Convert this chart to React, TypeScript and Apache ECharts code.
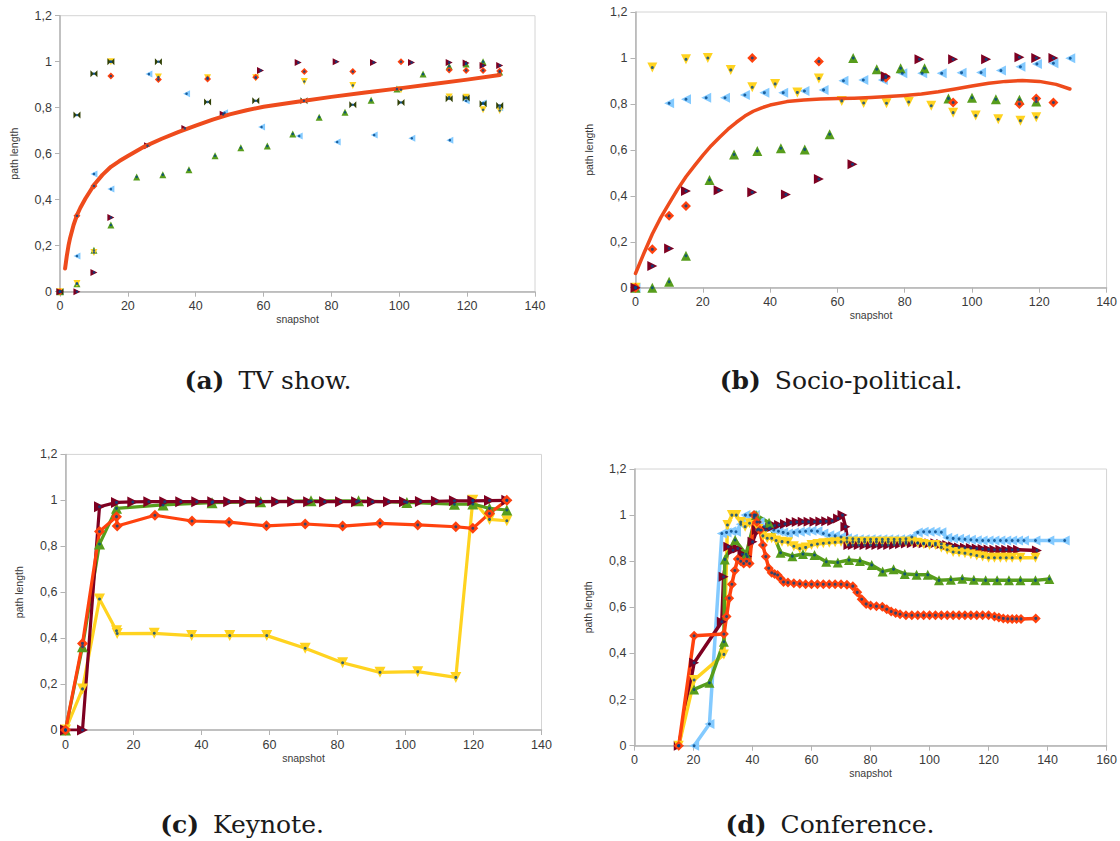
import React, { useEffect, useRef } from "react";
import * as echarts from "echarts";

type Pt = [number, number];

// palette
const ORANGE = "#ff420e";
const YELLOW = "#ffd320";
const GREEN = "#579d1c";
const MAROON = "#7e0021";
const LIGHTBLUE = "#83caff";
const DARKGREEN = "#314004";
const DOT = "#004586";
const TREND = "#ee4b1c";

const SYM_DIAMOND = "diamond";
const SYM_UP = "triangle";
const SYM_DOWN = "path://M0,0L10,0L5,9Z";
const SYM_RIGHT = "path://M0,0L9,5L0,10Z";
const SYM_LEFT = "path://M9,0L0,5L9,10Z";
const SYM_BOWTIE = "path://M0,0L5,5L0,10ZM10,0L5,5L10,10Z";

// (a) TV show
const tvOrange: Pt[] = [[0, 0], [5, 0.33], [10, 0.46], [15, 0.938], [29, 0.923], [43.5, 0.925], [57.7, 0.932], [72, 0.957], [86.3, 0.957], [100.5, 1.0], [114.7, 0.964], [119.7, 0.962], [124.7, 0.962], [129.6, 0.96]];
const tvYellow: Pt[] = [[0, 0], [5, 0.036], [10, 0.17], [15, 1.0], [29, 0.933], [43.5, 0.93], [57.7, 0.93], [72, 0.914], [86.3, 0.897], [100.5, 0.878], [114.7, 0.846], [119.7, 0.845], [124.7, 0.791], [129.6, 0.788]];
const tvGreen: Pt[] = [[0, 0], [5, 0.035], [10, 0.18], [15, 0.29], [22.6, 0.499], [30.3, 0.509], [38, 0.53], [45.7, 0.591], [53.3, 0.626], [61.1, 0.633], [68.6, 0.686], [76.4, 0.759], [84, 0.78], [91.7, 0.832], [99.3, 0.881], [107, 0.946], [114.7, 0.98], [119.7, 0.99], [124.7, 1.0], [129.6, 0.955]];
const tvMaroon: Pt[] = [[0, 0], [5, 0], [10, 0.084], [15, 0.323], [25.8, 0.635], [36.8, 0.71], [48.1, 0.771], [59.1, 0.962], [70.2, 0.996], [81.4, 1.0], [92.4, 0.997], [103.6, 0.997], [114.7, 0.997], [119.7, 0.994], [124.7, 0.983], [129.6, 0.983]];
const tvLightBlue: Pt[] = [[0, 0], [5, 0.155], [10, 0.512], [15, 0.446], [26.2, 0.946], [37.3, 0.861], [48.5, 0.778], [59.4, 0.716], [70.5, 0.677], [81.7, 0.651], [92.6, 0.681], [103.7, 0.667], [114.9, 0.659], [119.7, 0.83], [124.7, 0.82], [129.6, 0.8]];
const tvBowtie: Pt[] = [[0, 0], [5, 0.768], [10, 0.948], [15, 1.0], [29, 1.0], [43.5, 0.825], [57.7, 0.83], [71.9, 0.83], [86.3, 0.813], [100.5, 0.823], [114.7, 0.839], [119.7, 0.842], [124.7, 0.817], [129.6, 0.81]];
// fitted trend curve, read along its length
const tvTrend: Pt[] = [[1.5, 0.101], [2, 0.155], [2.5, 0.2], [3, 0.235], [4, 0.29], [5, 0.333], [6, 0.365], [7.5, 0.405], [9, 0.44], [10, 0.464], [12.5, 0.508], [15, 0.543], [17.5, 0.568], [20, 0.59], [25, 0.632], [30, 0.665], [35, 0.695], [40, 0.722], [45, 0.748], [50, 0.771], [55, 0.789], [60, 0.804], [70, 0.826], [80, 0.847], [90, 0.866], [100, 0.884], [110, 0.903], [120, 0.922], [129.6, 0.942]];

// (b) Socio-political
const spYellow: Pt[] = [[0, 0], [5, 0.958], [15, 0.994], [21.5, 1.0], [28.3, 0.948], [34.7, 0.872], [41.5, 0.887], [48.1, 0.85], [54.5, 0.911], [61.3, 0.813], [67.8, 0.804], [74.6, 0.803], [81.2, 0.808], [87.9, 0.792], [94.4, 0.762], [101.1, 0.749], [107.8, 0.733], [114.4, 0.727], [119.1, 0.742]];
const spOrange: Pt[] = [[0, 0], [5, 0.167], [10, 0.313], [15, 0.356], [34.7, 1.0], [54.5, 0.985], [74.4, 0.914], [94.4, 0.806], [114.1, 0.8], [119.1, 0.824], [124.2, 0.806]];
const spMaroon: Pt[] = [[0, 0], [5, 0.094], [10, 0.171], [15, 0.421], [24.7, 0.424], [34.7, 0.415], [44.7, 0.406], [54.5, 0.473], [64.5, 0.537], [74.4, 0.92], [84.4, 0.994], [94.4, 0.994], [104.2, 0.994], [114.1, 1.003], [119.1, 1.0], [124.2, 1.0]];
const spGreen: Pt[] = [[0, 0], [5, 0], [10, 0.026], [15, 0.139], [22, 0.469], [29.3, 0.58], [36.2, 0.595], [43.2, 0.607], [50.3, 0.602], [57.7, 0.668], [64.7, 1.0], [71.7, 0.951], [78.8, 0.955], [85.9, 0.955], [93, 0.824], [100, 0.827], [107.1, 0.82], [114.1, 0.818], [119.1, 0.81]];
const spLightBlue: Pt[] = [[0, 0], [10, 0.803], [15, 0.82], [21, 0.827], [26.6, 0.827], [32.5, 0.839], [38.3, 0.849], [43.9, 0.849], [50.2, 0.856], [55.9, 0.861], [61.8, 0.901], [67.7, 0.904], [73.5, 0.904], [79.3, 0.933], [85.2, 0.933], [91, 0.933], [96.9, 0.936], [102.7, 0.937], [108.6, 0.945], [114.4, 0.962], [119.3, 0.974], [124.2, 0.977], [129.2, 0.999]];
const spTrend: Pt[] = [[0, 0.062], [2.5, 0.15], [5, 0.234], [7.5, 0.305], [10, 0.367], [12.5, 0.428], [15, 0.483], [17.5, 0.53], [20, 0.576], [22.5, 0.618], [25, 0.655], [27.5, 0.69], [30, 0.72], [32.5, 0.747], [35, 0.768], [37.5, 0.783], [40, 0.795], [45, 0.81], [50, 0.817], [55, 0.821], [60, 0.823], [65, 0.825], [70, 0.828], [75, 0.832], [80, 0.837], [85, 0.843], [90, 0.853], [95, 0.865], [100, 0.878], [105, 0.89], [110, 0.898], [115, 0.902], [120, 0.898], [125, 0.885], [129.1, 0.865]];

// (c) Keynote
const kyYellow: Pt[] = [[0, 0], [5, 0.179], [10, 0.57], [15, 0.432], [15.2, 0.42], [26.1, 0.421], [37.1, 0.411], [48.3, 0.411], [59.2, 0.411], [70.5, 0.356], [81.5, 0.293], [92.5, 0.251], [103.6, 0.254], [114.8, 0.229], [119.8, 1.0], [124.7, 0.917], [129.8, 0.911]];
const kyOrange: Pt[] = [[0, 0], [5, 0.377], [10, 0.864], [15, 0.929], [15.2, 0.888], [26.3, 0.935], [37.2, 0.91], [48.1, 0.905], [59.1, 0.889], [70.5, 0.897], [81.5, 0.888], [92.5, 0.9], [103.6, 0.893], [114.8, 0.885], [119.8, 0.878], [124.7, 0.943], [129.8, 1.0]];
const kyGreen: Pt[] = [[0, 0], [5, 0.363], [10, 0.81], [15, 0.965], [28.7, 0.98], [43.1, 0.99], [57.4, 0.994], [72.2, 0.998], [86.2, 0.998], [100.4, 0.991], [114.4, 0.983], [119.8, 0.984], [124.7, 0.965], [129.8, 0.958]];
const kyMaroon: Pt[] = [[0, 0], [5, 0], [10, 0.972], [15, 0.991], [19.8, 0.993], [24.5, 0.994], [29.2, 0.994], [33.9, 0.994], [38.6, 0.994], [43.3, 0.994], [48, 0.994], [52.7, 0.994], [57.4, 0.994], [62.1, 0.994], [66.8, 0.994], [71.5, 0.994], [76.2, 0.994], [80.9, 0.994], [85.6, 0.994], [90.3, 0.994], [95, 0.994], [99.7, 0.994], [104.4, 0.995], [109.1, 0.996], [114.4, 0.998], [119.8, 0.998], [124.7, 0.999], [129.8, 1.0]];

// (d) Conference
const cfLightBlue: Pt[] = [[20.2, 0], [25.4, 0.094], [29.6, 0.92], [31.2, 0.925], [32.8, 0.93], [34.4, 0.928], [36, 0.96], [37.6, 1.0], [39.2, 1.0], [40.8, 1.0], [42.4, 0.97], [44, 0.95], [45.6, 0.942], [47.2, 0.935], [48.8, 0.93], [50.4, 0.925], [52, 0.92], [54, 0.925], [56, 0.928], [58, 0.93], [60, 0.932], [62, 0.93], [64, 0.92], [66, 0.913], [68, 0.91], [70, 0.905], [72, 0.9], [74, 0.897], [76, 0.895], [78, 0.895], [80, 0.895], [82, 0.895], [84, 0.895], [86, 0.895], [88, 0.895], [90, 0.895], [92, 0.897], [94, 0.905], [96, 0.925], [98, 0.928], [100, 0.928], [102, 0.928], [104, 0.926], [106, 0.902], [108, 0.899], [110, 0.897], [112, 0.895], [114, 0.893], [116, 0.891], [118, 0.89], [120, 0.89], [122, 0.89], [124, 0.89], [126, 0.89], [128, 0.89], [130, 0.89], [132, 0.89], [135.9, 0.89], [140.6, 0.89], [145.8, 0.89]];
const cfMaroon: Pt[] = [[15, 0], [20.2, 0.36], [29.6, 0.538], [30.2, 0.733], [31.8, 0.863], [33.4, 0.848], [35, 0.855], [36.6, 0.83], [38.2, 0.82], [40, 0.884], [41.5, 0.935], [43, 0.935], [44.5, 0.935], [46, 0.945], [47.5, 0.955], [49, 0.957], [51, 0.962], [53, 0.968], [55, 0.97], [57, 0.971], [59, 0.971], [61, 0.971], [63, 0.972], [65, 0.973], [67, 0.975], [69, 0.985], [70.5, 1.0], [71.5, 0.95], [72.5, 0.87], [74, 0.87], [76, 0.87], [78, 0.87], [80, 0.87], [82, 0.87], [84, 0.87], [86, 0.87], [88, 0.872], [90, 0.875], [92, 0.877], [94, 0.878], [96, 0.878], [98, 0.878], [100, 0.878], [102, 0.878], [104, 0.875], [106, 0.87], [108, 0.865], [110, 0.86], [112, 0.858], [114, 0.857], [116, 0.855], [118, 0.853], [120, 0.851], [122, 0.85], [124, 0.85], [126, 0.85], [128, 0.85], [130, 0.85], [136.4, 0.847]];
const cfYellow: Pt[] = [[15, 0], [20.2, 0.285], [30.3, 0.396], [31.5, 0.957], [33, 1.0], [34.5, 1.0], [36, 0.97], [37.5, 0.95], [39, 0.965], [40.5, 0.99], [42, 0.94], [43.5, 0.91], [45, 0.9], [46.5, 0.9], [48, 0.89], [50, 0.885], [52, 0.882], [54, 0.865], [56, 0.855], [58, 0.86], [60, 0.87], [62, 0.875], [64, 0.878], [66, 0.88], [68, 0.882], [70, 0.884], [72, 0.884], [74, 0.884], [76, 0.884], [78, 0.884], [80, 0.884], [82, 0.884], [84, 0.884], [86, 0.884], [88, 0.884], [90, 0.884], [92, 0.884], [94, 0.884], [96, 0.88], [98, 0.875], [100, 0.87], [102, 0.87], [104, 0.86], [106, 0.85], [108, 0.84], [110, 0.838], [112, 0.835], [114, 0.83], [116, 0.825], [118, 0.82], [120, 0.815], [122, 0.815], [124, 0.815], [126, 0.815], [128, 0.815], [130.8, 0.815], [135.9, 0.815]];
const cfGreen: Pt[] = [[20.2, 0.244], [25.4, 0.273], [30.3, 0.451], [30.6, 0.808], [34.1, 0.892], [37.8, 0.83], [41.2, 1.0], [45.6, 0.967], [49.5, 0.837], [53.5, 0.822], [57.1, 0.831], [61, 0.827], [65, 0.798], [68.9, 0.795], [72.7, 0.805], [76.4, 0.801], [80.4, 0.784], [84.1, 0.755], [87.8, 0.765], [91.6, 0.745], [95.6, 0.741], [99.4, 0.741], [103.2, 0.717], [107.2, 0.72], [111.1, 0.724], [115, 0.72], [119, 0.717], [122.9, 0.717], [126.9, 0.717], [130.8, 0.717], [135.9, 0.717], [140.6, 0.723]];
const cfOrange: Pt[] = [[15, 0], [20.2, 0.477], [30.3, 0.484], [31.2, 0.56], [32.1, 0.64], [33, 0.7], [34, 0.76], [35, 0.81], [36, 0.8], [37, 0.79], [38, 0.8], [39, 0.79], [40.5, 1.0], [41.5, 0.97], [42.5, 0.935], [43.5, 0.87], [44.5, 0.82], [45.5, 0.77], [46.5, 0.75], [47.5, 0.745], [48.5, 0.74], [49.5, 0.725], [50.5, 0.71], [52, 0.708], [54, 0.705], [56, 0.702], [58, 0.7], [60, 0.7], [62, 0.7], [64, 0.7], [66, 0.7], [68, 0.7], [70, 0.7], [72, 0.698], [74, 0.692], [75.5, 0.665], [77, 0.635], [78.5, 0.615], [80, 0.608], [82, 0.605], [84, 0.603], [85.5, 0.592], [87, 0.582], [88.5, 0.575], [90, 0.57], [92, 0.566], [94, 0.566], [96, 0.566], [98, 0.566], [100, 0.566], [102, 0.566], [104, 0.566], [106, 0.566], [108, 0.566], [110, 0.566], [112, 0.566], [114, 0.566], [116, 0.566], [118, 0.566], [120, 0.566], [122, 0.56], [123.5, 0.556], [125, 0.552], [126.5, 0.55], [128, 0.55], [129.5, 0.55], [131, 0.55], [136, 0.552]];

const xMaxes = [140, 140, 140, 160];
const captions = [
  { tag: "(a)", text: "TV show.", cx: 268, top: 368 },
  { tag: "(b)", text: "Socio-political.", cx: 841, top: 368 },
  { tag: "(c)", text: "Keynote.", cx: 242, top: 812 },
  { tag: "(d)", text: "Conference.", cx: 830, top: 812 },
];

const grids = [
  { left: 60, top: 15.7, width: 475, height: 276 },
  { left: 635.5, top: 12, width: 474, height: 275.7 },
  { left: 65.5, top: 454.4, width: 476, height: 275.6 },
  { left: 634.5, top: 469, width: 474.5, height: 276.7 },
];

const fmt = (v: number) =>
  Number.isInteger(v) ? String(v) : v.toFixed(1).replace(".", ",");

const AXIS_GRAY = "#b3b3b3";
const LABEL_COLOR = "#3a3a3a";
const SANS = "Liberation Sans";
const SERIF = "DejaVu Serif";

function scatter(gi: number, data: Pt[], color: string, symbol: string, size: number) {
  return {
    type: "scatter", xAxisIndex: gi, yAxisIndex: gi, data, symbol, symbolSize: size,
    itemStyle: { color, opacity: 1 }, z: 2, silent: true,
  };
}
function dots(gi: number, data: Pt[], size: number) {
  return {
    type: "scatter", xAxisIndex: gi, yAxisIndex: gi, data, symbol: "circle", symbolSize: size,
    itemStyle: { color: DOT }, z: 4, silent: true,
  };
}
function line(gi: number, data: Pt[], color: string, symbol: string, size: number, width: number) {
  return {
    type: "line", xAxisIndex: gi, yAxisIndex: gi, data, symbol, symbolSize: size,
    showSymbol: true, showAllSymbol: true, lineStyle: { color, width, join: "round" },
    itemStyle: { color }, z: 2, silent: true,
  };
}
function trend(gi: number, data: Pt[], width: number) {
  return {
    type: "line", xAxisIndex: gi, yAxisIndex: gi, data, smooth: false,
    showSymbol: false, lineStyle: { color: TREND, width, cap: "round", join: "round" }, z: 3, silent: true,
  };
}

export default function App() {
  const ref = useRef<HTMLDivElement>(null);

  useEffect(() => {
    document.body.style.margin = "0";
    if (!ref.current) return;
    const chart = echarts.init(ref.current, undefined, { renderer: "svg" });

    const scatterPanels: [Pt[], string, string][][] = [
      [
        [tvLightBlue, LIGHTBLUE, SYM_LEFT],
        [tvGreen, GREEN, SYM_UP],
        [tvYellow, YELLOW, SYM_DOWN],
        [tvOrange, ORANGE, SYM_DIAMOND],
        [tvBowtie, DARKGREEN, SYM_BOWTIE],
        [tvMaroon, MAROON, SYM_RIGHT],
      ],
      [
        [spLightBlue, LIGHTBLUE, SYM_LEFT],
        [spGreen, GREEN, SYM_UP],
        [spYellow, YELLOW, SYM_DOWN],
        [spOrange, ORANGE, SYM_DIAMOND],
        [spMaroon, MAROON, SYM_RIGHT],
      ],
    ];
    const linePanels: [Pt[], string, string][][] = [
      [
        [kyYellow, YELLOW, SYM_DOWN],
        [kyGreen, GREEN, SYM_UP],
        [kyMaroon, MAROON, SYM_RIGHT],
        [kyOrange, ORANGE, SYM_DIAMOND],
      ],
      [
        [cfLightBlue, LIGHTBLUE, SYM_LEFT],
        [cfMaroon, MAROON, SYM_RIGHT],
        [cfYellow, YELLOW, SYM_DOWN],
        [cfGreen, GREEN, SYM_UP],
        [cfOrange, ORANGE, SYM_DIAMOND],
      ],
    ];

    const series: any[] = [];
    const markerSizes = [7, 10];
    scatterPanels.forEach((panel, gi) => {
      panel.forEach(([d, c, s]) => series.push(scatter(gi, d, c, s, markerSizes[gi])));
      panel.forEach(([d]) => series.push(dots(gi, d, gi === 0 ? 2.5 : 3)));
    });
    series.push(trend(0, tvTrend, 4));
    series.push(trend(1, spTrend, 3.5));
    const lineSizes = [11, 10];
    const lineWidths = [3.2, 3.5];
    linePanels.forEach((panel, i) => {
      const gi = i + 2;
      panel.forEach(([d, c, s]) => series.push(line(gi, d, c, s, lineSizes[i], lineWidths[i])));
      panel.forEach(([d]) => series.push(dots(gi, d, 3)));
    });

    const option: any = {
      animation: false,
      backgroundColor: "#ffffff",
      title: captions.map((c) => ({
        text: `{b|${c.tag}}{n|${c.text}}`,
        left: c.cx,
        top: c.top,
        textAlign: "center",
        padding: 0,
        textStyle: {
          fontWeight: "normal",
          rich: {
            b: { fontFamily: SERIF, fontWeight: "bold", fontSize: 25, color: "#1a1a1a", padding: [0, 14, 0, 0] },
            n: { fontFamily: SERIF, fontWeight: "normal", fontSize: 25, color: "#1a1a1a" },
          },
        },
      })),
      grid: grids.map((g) => ({
        ...g, show: true, borderColor: "#d4d4d4", borderWidth: 1, backgroundColor: "transparent",
      })),
      xAxis: grids.map((_, i) => ({
        type: "value", gridIndex: i, min: 0, max: xMaxes[i], interval: 20,
        name: "snapshot", nameLocation: "middle", nameGap: 22,
        nameTextStyle: { fontFamily: SANS, fontSize: 10.5, color: LABEL_COLOR },
        axisLine: { show: true, onZero: false, lineStyle: { color: AXIS_GRAY, width: 1.5 } },
        axisTick: { show: true, length: 5, lineStyle: { color: AXIS_GRAY } },
        axisLabel: { fontFamily: SANS, fontSize: 12.5, color: LABEL_COLOR, margin: 8, formatter: fmt },
        splitLine: { show: false },
      })),
      yAxis: grids.map((_, i) => ({
        type: "value", gridIndex: i, min: 0, max: 1.2, interval: 0.2,
        name: "path length", nameLocation: "middle", nameGap: 41, nameRotate: 90,
        nameTextStyle: { fontFamily: SANS, fontSize: 10.5, color: LABEL_COLOR },
        axisLine: { show: true, onZero: false, lineStyle: { color: AXIS_GRAY, width: 1.5 } },
        axisTick: { show: true, length: 5, lineStyle: { color: AXIS_GRAY } },
        axisLabel: { fontFamily: SANS, fontSize: 12.5, color: LABEL_COLOR, margin: 8, formatter: fmt },
        splitLine: { show: false },
      })),
      series,
    };

    chart.setOption(option);
    return () => chart.dispose();
  }, []);

  return <div ref={ref} style={{ width: 1120, height: 841 }} />;
}
